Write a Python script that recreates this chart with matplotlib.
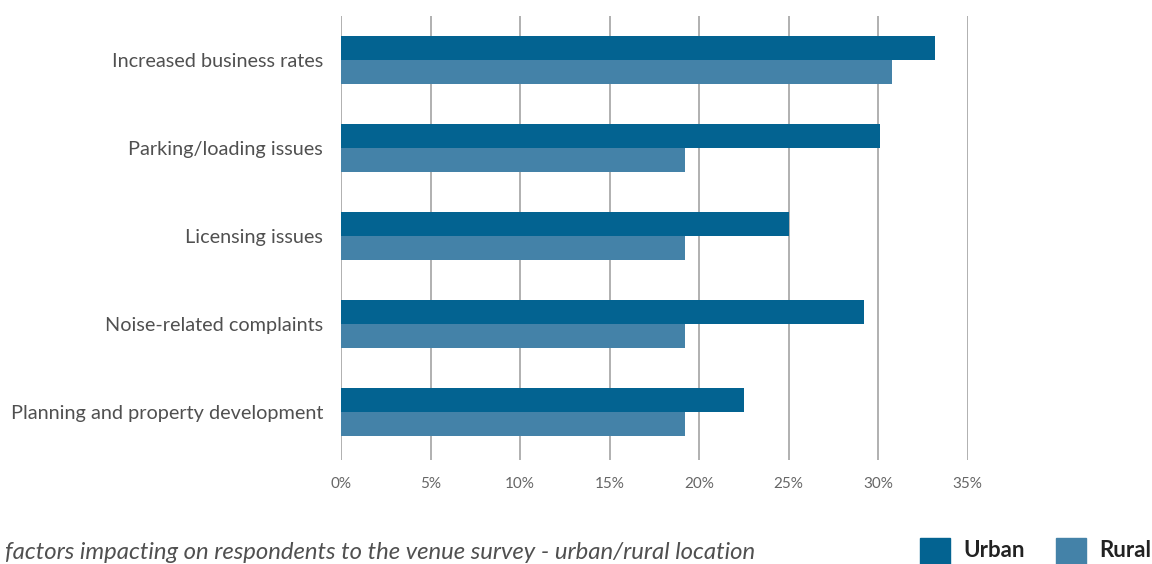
import numpy as np
import matplotlib.pyplot as plt
from matplotlib.patches import Rectangle

# Survey responses by location (% of respondents)
categories = ["Increased business rates", "Parking/loading issues", "Licensing issues",
              "Noise-related complaints", "Planning and property development"]
urban = [33.2, 30.1, 25.0, 29.2, 22.5]
rural = [30.8, 19.2, 19.2, 19.2, 19.2]
ticks = [0, 5, 10, 15, 20, 25, 30, 35]

urban_col = "#036391"
rural_col = "#4482a8"

plt.rcParams['font.family'] = ['Lato', 'DejaVu Sans']

fig = plt.figure(figsize=(11.52, 5.64), dpi=100)
ax = fig.add_axes([0.296, 0.184, 0.544, 0.788])

y = np.arange(len(categories))
h = 0.27
ax.barh(y - h / 2, urban, height=h, color=urban_col, zorder=3)
ax.barh(y + h / 2, rural, height=h, color=rural_col, zorder=3)

ax.set_xlim(0, 35)
ax.set_ylim(4.55, -0.5)
ax.set_xticks(ticks)
ax.set_xticklabels([f"{t}%" for t in ticks], fontsize=11, color="#666666")
ax.set_yticks(y)
ax.set_yticklabels(categories, fontsize=14.3, color="#505050")
ax.tick_params(length=0, pad=12)
ax.tick_params(axis='y', pad=13)
ax.grid(axis='x', color="#aaaaaa", linewidth=1.3, zorder=0)
for s in ax.spines.values():
    s.set_visible(False)

fig.text(0.004, 0.008, "factors impacting on respondents to the venue survey - urban/rural location",
         fontsize=17.2, style="italic", color="#505050")

# legend drawn as patches in figure coordinates
for x0, label, col in [(920, "Urban", urban_col), (1056, "Rural", rural_col)]:
    fig.patches.append(Rectangle((x0 / 1152, 0), 30 / 1152, 26 / 564,
                                 transform=fig.transFigure, color=col))
    fig.text((x0 + 43) / 1152, 0.012, label, fontsize=16, fontweight="bold", color="#222222")

fig.savefig("out.png", dpi=100)
